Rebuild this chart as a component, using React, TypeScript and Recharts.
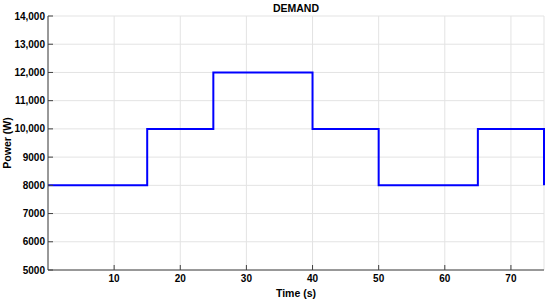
import {
  CartesianGrid,
  Line,
  LineChart,
  XAxis,
  YAxis,
} from "recharts";

const times = [0, 15, 25, 40, 50, 65, 75];
const power = [8000, 10000, 12000, 10000, 8000, 10000, 8000];
const xTicks = [10, 20, 30, 40, 50, 60, 70];
const yTicks = [5000, 6000, 7000, 8000, 9000, 10000, 11000, 12000, 13000, 14000];

const data = times.map((t, i) => ({ t, p: power[i] }));

const font = { fontFamily: "Liberation Sans, Arial, sans-serif", fontWeight: 700 };
const fmtY = (v: number) => (v >= 10000 ? v.toLocaleString("en-US") : String(v));

export default function App() {
  return (
    <div style={{ position: "absolute", left: 0, top: 0, background: "#fff" }}>
      <LineChart
        width={550}
        height={303}
        data={data}
        margin={{ top: 16, right: 6, bottom: 13, left: 0 }}
      >
        <CartesianGrid stroke="#e3e3e3" strokeWidth={1} />
        <XAxis
          dataKey="t"
          type="number"
          domain={[0, 75]}
          ticks={xTicks}
          height={20}
          tickSize={-5}
          tickMargin={10}
          stroke="#404040"
          tick={{ ...font, fontSize: 10, fill: "#000" }}
        />
        <XAxis
          xAxisId="top"
          orientation="top"
          type="number"
          domain={[0, 75]}
          ticks={xTicks}
          height={0}
          tickSize={-5}
          tickFormatter={() => ""}
          stroke="#404040"
        />
        <YAxis
          type="number"
          domain={[5000, 14000]}
          ticks={yTicks}
          width={48}
          tickSize={-5}
          tickMargin={8}
          tickFormatter={fmtY}
          stroke="#404040"
          tick={{ ...font, fontSize: 10, fill: "#000" }}
        />
        <YAxis
          yAxisId="right"
          orientation="right"
          type="number"
          domain={[5000, 14000]}
          ticks={yTicks}
          width={0}
          tickSize={-5}
          tickFormatter={() => ""}
          stroke="#404040"
        />
        <text x={296} y={12} textAnchor="middle" style={{ ...font, fontSize: 10.5 }} fill="#000">
          DEMAND
        </text>
        <text x={296} y={297} textAnchor="middle" style={{ ...font, fontSize: 10.5 }} fill="#000">
          Time (s)
        </text>
        <text
          x={11}
          y={143}
          textAnchor="middle"
          transform="rotate(-90, 11, 143)"
          style={{ ...font, fontSize: 10.5 }}
          fill="#000"
        >
          Power (W)
        </text>
        <Line
          type="stepAfter"
          dataKey="p"
          stroke="#0000ff"
          strokeWidth={2}
          dot={false}
          isAnimationActive={false}
        />
      </LineChart>
    </div>
  );
}
